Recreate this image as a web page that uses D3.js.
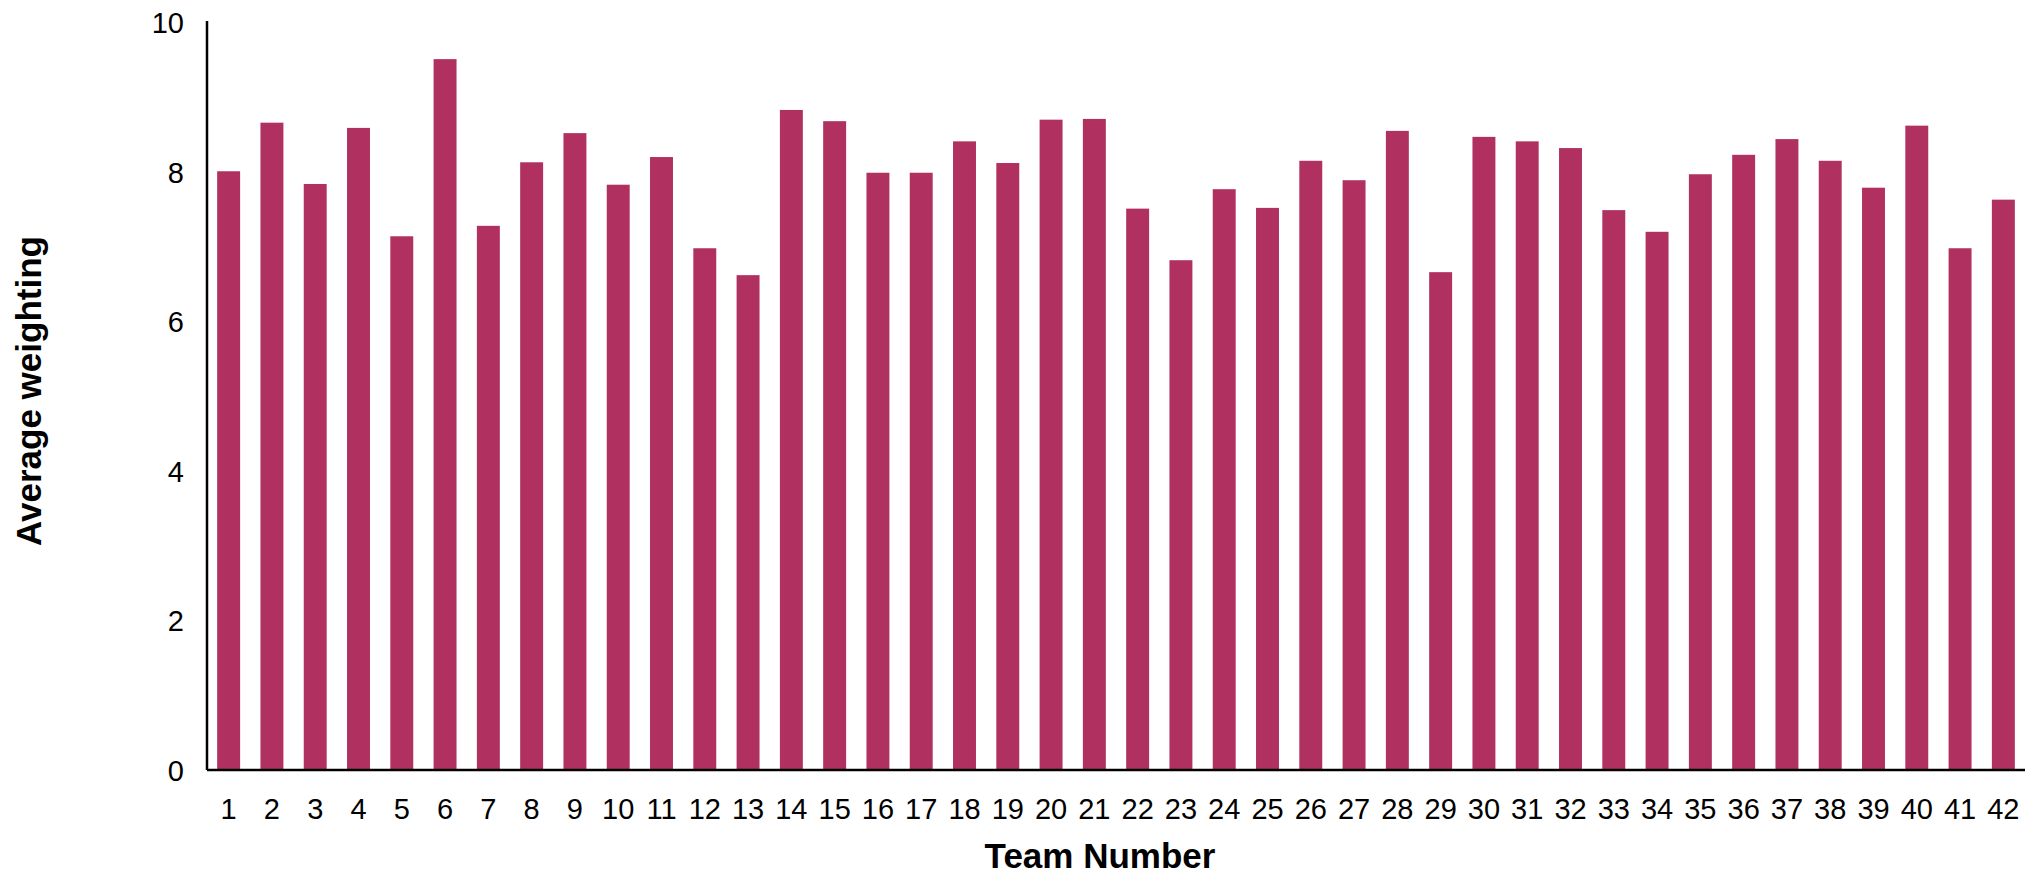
<!DOCTYPE html>
<html>
<head>
<meta charset="utf-8">
<script src="https://cdn.jsdelivr.net/npm/d3@7"></script>
<style>
	body { margin: 0; background: #fff; }
	svg text { font-family: Arial, "Liberation Sans", sans-serif; fill: #000; }
</style>
</head>
<body>
<svg width="2044" height="875"></svg>
<script>
// Average weighting per team, bar chart

var teams = d3.range(1, 43);
var weights = [
	8.01, 8.66, 7.84, 8.59, 7.14, 9.51, 7.28, 8.13, 8.52, 7.83,
	8.20, 6.98, 6.62, 8.83, 8.68, 7.99, 7.99, 8.41, 8.12, 8.70,
	8.71, 7.51, 6.82, 7.77, 7.52, 8.15, 7.89, 8.55, 6.66, 8.47,
	8.41, 8.32, 7.49, 7.20, 7.97, 8.23, 8.44, 8.15, 7.79, 8.62,
	6.98, 7.63
];
var y_ticks = [0, 2, 4, 6, 8, 10];

var bar_color = "#b03060";

function layout_chart(){
	var svg_handle = d3.select("svg");

	var x = d3.scaleBand()
		.domain(teams)
		.range([207, 2025])
		.paddingInner(0.47)
		.paddingOuter(0.235);

	var y = d3.scaleLinear()
		.domain([0, 10])
		.range([770, 22.5]);

	// bars
	svg_handle.append("g")
		.attr("class", "bars")
		.selectAll("rect")
		.data(weights)
		.enter().append("rect")
		.attr("x", (d, i) => x(teams[i]))
		.attr("y", d => y(d))
		.attr("width", x.bandwidth())
		.attr("height", d => y(0) - y(d))
		.attr("fill", bar_color);

	// y axis
	var y_axis = svg_handle.append("g")
		.attr("transform", "translate(207,0)")
		.call(d3.axisLeft(y).tickValues(y_ticks).tickSize(0).tickPadding(23));
	y_axis.select(".domain")
		.attr("d", "M0," + 21 + "V" + y(0))
		.attr("stroke", "#000")
		.attr("stroke-width", 2.5);
	y_axis.selectAll("text")
		.style("font-size", "29px")
		.attr("dy", "0.35em");

	// x axis
	var x_axis = svg_handle.append("g")
		.attr("transform", "translate(0," + y(0) + ")")
		.call(d3.axisBottom(x).tickSize(0).tickPadding(28));
	x_axis.select(".domain")
		.attr("d", "M207,0H2025")
		.attr("stroke", "#000")
		.attr("stroke-width", 2.5);
	x_axis.selectAll("text")
		.style("font-size", "29px");

	// titles
	svg_handle.append("text")
		.attr("x", 1100)
		.attr("y", 868)
		.attr("text-anchor", "middle")
		.style("font-size", "35px")
		.style("font-weight", "bold")
		.text("Team Number");

	svg_handle.append("text")
		.attr("transform", "translate(41,391) rotate(-90)")
		.attr("text-anchor", "middle")
		.style("font-size", "35px")
		.style("font-weight", "bold")
		.text("Average weighting");
}

layout_chart();
</script>
</body>
</html>
